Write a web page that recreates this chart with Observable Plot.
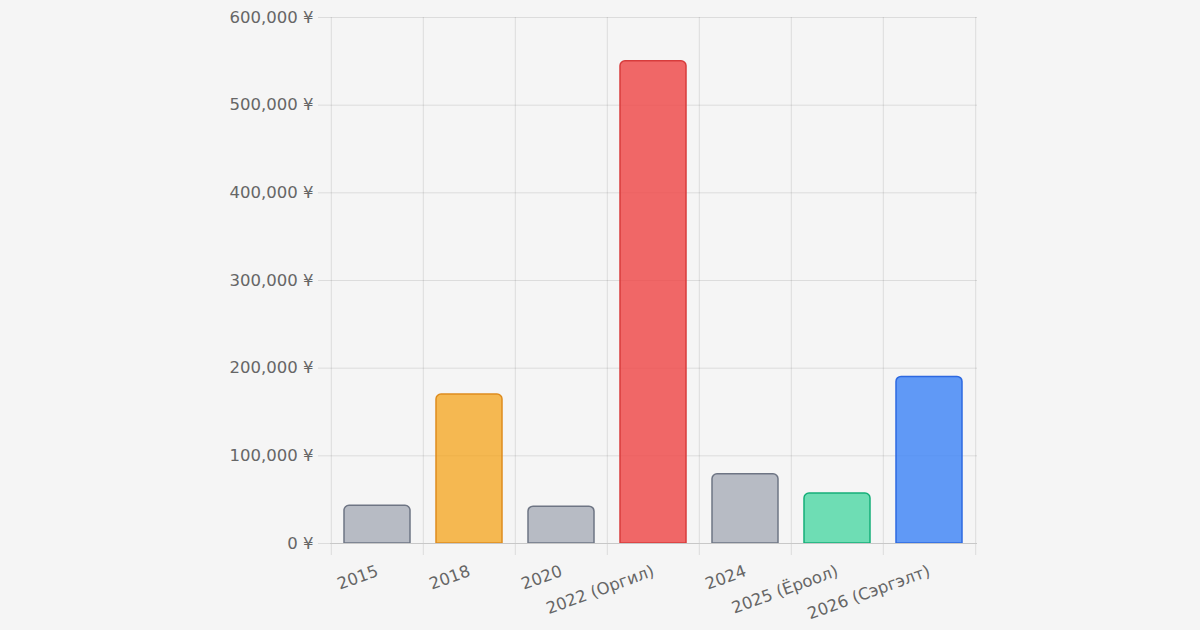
<!DOCTYPE html>
<html>
<head>
<meta charset="utf-8">
<script src="https://cdn.jsdelivr.net/npm/d3@7"></script>
<script src="https://cdn.jsdelivr.net/npm/@observablehq/plot@0.6"></script>
<style>
  html, body { margin: 0; padding: 0; background: #f5f5f5; overflow: hidden; }
  #chart svg { display: block; }
</style>
</head>
<body>
<div id="chart"></div>
<script>
const categories = ["2015", "2018", "2020", "2022 (Оргил)", "2024", "2025 (Ёроол)", "2026 (Сэргэлт)"];
const values = [43000, 170000, 42000, 550000, 79000, 57000, 190000];
const yTicks = [0, 100000, 200000, 300000, 400000, 500000, 600000];

const fills = ["rgba(156,163,175,0.7)", "rgba(245,158,11,0.7)", "rgba(156,163,175,0.7)", "rgba(239,68,68,0.8)", "rgba(156,163,175,0.7)", "rgba(52,211,153,0.7)", "rgba(59,130,246,0.8)"];
const strokes = ["rgb(110,117,132)", "rgb(222,140,30)", "rgb(110,117,132)", "rgb(215,60,60)", "rgb(110,117,132)", "rgb(20,175,120)", "rgb(45,105,225)"];

const W = 1200, H = 630, ML = 330, MR = 223, MT = 17, MB = 87;
const step = (W - ML - MR) / categories.length;
const fmt = d => d3.format(",")(d) + " ¥";

const rows = categories.map((c, i) => ({cat: c, value: values[i], fill: fills[i], stroke: strokes[i]}));

const chart = Plot.plot({
  width: W, height: H,
  marginLeft: ML, marginRight: MR, marginTop: MT, marginBottom: MB,
  style: {background: "#f5f5f5", fontFamily: "'DejaVu Sans', sans-serif", fontSize: "16.5px", color: "#666"},
  x: {domain: categories, paddingInner: 0.28, paddingOuter: 0.14, label: null},
  y: {domain: [0, 600000], label: null},
  marks: [
    Plot.gridY(yTicks, {stroke: "#000", strokeOpacity: 0.1}),
    Plot.ruleX(categories, {x: d => d, dx: -step / 2, stroke: "#000", strokeOpacity: 0.1, insetBottom: -12}),
    Plot.ruleX([categories[categories.length - 1]], {x: d => d, dx: step / 2, stroke: "#000", strokeOpacity: 0.1, insetBottom: -12}),
    Plot.barY(rows, {x: "cat", y: "value", fill: "fill", stroke: "stroke", strokeWidth: 1.5, ry1: 5}),
    Plot.ruleY([0], {stroke: "#c8c8c8"}),
    Plot.axisY(yTicks, {tickSize: 12, tickPadding: 5, stroke: "#dcdcdc", fill: "#666", tickFormat: fmt, label: null}),
    Plot.axisX({tickSize: 0, tickPadding: 27, tickRotate: -20, fill: "#666", label: null})
  ]
});
document.getElementById("chart").appendChild(chart);
</script>
</body>
</html>
